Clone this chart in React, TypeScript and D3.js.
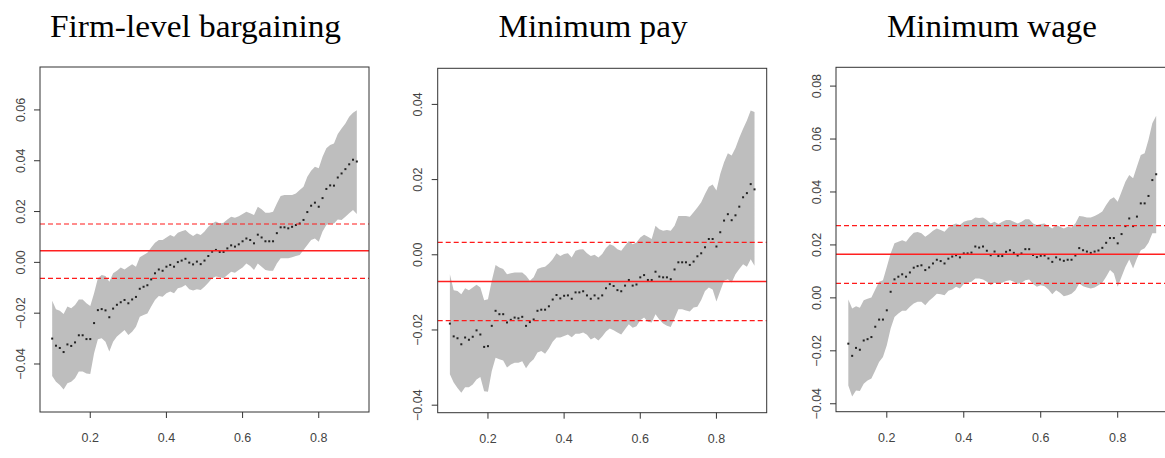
import React from 'react';
import * as d3 from 'd3';

const xGrid = d3.range(10, 91).map((i) => i / 100);

const titles = ['Firm-level bargaining', 'Minimum pay', 'Minimum wage'];

const firmEst = [-0.0300,-0.0328,-0.0337,-0.0353,-0.0323,-0.0329,-0.0315,-0.0287,-0.0287,-0.0302,
-0.0302,-0.0239,-0.0188,-0.0184,-0.0189,-0.0216,-0.0182,-0.0167,-0.0157,-0.0148,
-0.0161,-0.0146,-0.0136,-0.0104,-0.0096,-0.0090,-0.0067,-0.0043,-0.0028,-0.0033,
-0.0017,-0.0010,-0.0017,0.0001,0.0007,0.0014,-0.0001,-0.0008,0.0003,-0.0007,
0.0007,0.0025,0.0042,0.0049,0.0041,0.0041,0.0055,0.0067,0.0062,0.0071,
0.0083,0.0094,0.0088,0.0075,0.0109,0.0098,0.0083,0.0083,0.0083,0.0115,
0.0138,0.0138,0.0134,0.0140,0.0147,0.0153,0.0167,0.0198,0.0223,0.0235,
0.0219,0.0253,0.0289,0.0303,0.0302,0.0334,0.0350,0.0367,0.0386,0.0404,0.0397];
const firmUpper = [-0.0151,-0.0185,-0.0190,-0.0203,-0.0174,-0.0181,-0.0168,-0.0146,-0.0146,-0.0161,
-0.0172,-0.0122,-0.0063,-0.0050,-0.0054,-0.0076,-0.0043,-0.0033,-0.0020,-0.0028,
-0.0017,-0.0007,-0.0017,0.0020,0.0029,0.0038,0.0059,0.0077,0.0088,0.0088,
0.0098,0.0108,0.0101,0.0117,0.0122,0.0127,0.0114,0.0104,0.0114,0.0108,
0.0121,0.0140,0.0153,0.0161,0.0153,0.0156,0.0169,0.0180,0.0176,0.0182,
0.0190,0.0199,0.0193,0.0186,0.0219,0.0209,0.0195,0.0195,0.0199,0.0232,
0.0261,0.0265,0.0265,0.0265,0.0271,0.0285,0.0298,0.0337,0.0361,0.0376,
0.0370,0.0416,0.0449,0.0462,0.0468,0.0505,0.0527,0.0547,0.0573,0.0589,0.0599];
const firmLower = [-0.0447,-0.0470,-0.0483,-0.0500,-0.0476,-0.0470,-0.0456,-0.0430,-0.0430,-0.0437,
-0.0439,-0.0358,-0.0303,-0.0299,-0.0312,-0.0351,-0.0312,-0.0292,-0.0279,-0.0266,
-0.0286,-0.0273,-0.0253,-0.0214,-0.0207,-0.0201,-0.0174,-0.0148,-0.0132,-0.0135,
-0.0122,-0.0115,-0.0122,-0.0102,-0.0098,-0.0089,-0.0106,-0.0111,-0.0106,-0.0109,
-0.0096,-0.0080,-0.0063,-0.0056,-0.0059,-0.0063,-0.0050,-0.0037,-0.0041,-0.0030,
-0.0020,-0.0004,-0.0014,-0.0030,-0.0004,-0.0017,-0.0030,-0.0033,-0.0033,-0.0004,
0.0016,0.0016,0.0016,0.0020,0.0025,0.0029,0.0049,0.0068,0.0088,0.0094,
0.0081,0.0121,0.0147,0.0153,0.0153,0.0169,0.0167,0.0180,0.0193,0.0206,0.0190];

const payEst = [-0.0183,-0.0217,-0.0222,-0.0238,-0.0220,-0.0226,-0.0218,-0.0201,-0.0212,-0.0245,
-0.0243,-0.0189,-0.0149,-0.0158,-0.0158,-0.0180,-0.0173,-0.0167,-0.0169,-0.0165,
-0.0189,-0.0179,-0.0172,-0.0149,-0.0146,-0.0146,-0.0137,-0.0119,-0.0107,-0.0116,
-0.0109,-0.0108,-0.0117,-0.0100,-0.0100,-0.0097,-0.0108,-0.0117,-0.0108,-0.0116,
-0.0108,-0.0089,-0.0078,-0.0083,-0.0094,-0.0097,-0.0082,-0.0067,-0.0082,-0.0079,
-0.0060,-0.0054,-0.0067,-0.0067,-0.0045,-0.0058,-0.0060,-0.0060,-0.0065,-0.0039,
-0.0020,-0.0020,-0.0020,-0.0027,-0.0018,-0.0004,0.0004,0.0020,0.0042,0.0042,
0.0022,0.0060,0.0091,0.0108,0.0092,0.0105,0.0128,0.0153,0.0164,0.0188,0.0174];
const payUpper = [-0.0052,-0.0094,-0.0096,-0.0105,-0.0089,-0.0094,-0.0087,-0.0080,-0.0087,-0.0121,
-0.0118,-0.0069,-0.0027,-0.0034,-0.0038,-0.0052,-0.0049,-0.0047,-0.0047,-0.0047,
-0.0056,-0.0069,-0.0060,-0.0038,-0.0034,-0.0032,-0.0023,-0.0012,0.0004,-0.0003,
0.0002,0.0004,-0.0007,0.0011,0.0014,0.0015,0.0004,-0.0003,0.0000,-0.0007,
0.0002,0.0018,0.0028,0.0024,0.0015,0.0011,0.0024,0.0037,0.0028,0.0033,
0.0046,0.0053,0.0048,0.0042,0.0077,0.0068,0.0064,0.0066,0.0064,0.0077,
0.0103,0.0103,0.0103,0.0101,0.0113,0.0126,0.0140,0.0162,0.0181,0.0187,
0.0171,0.0215,0.0246,0.0270,0.0264,0.0284,0.0311,0.0335,0.0357,0.0384,0.0380];
const payLower = [-0.0318,-0.0340,-0.0354,-0.0367,-0.0352,-0.0352,-0.0345,-0.0332,-0.0325,-0.0363,
-0.0364,-0.0309,-0.0274,-0.0278,-0.0281,-0.0300,-0.0292,-0.0287,-0.0287,-0.0283,
-0.0302,-0.0287,-0.0278,-0.0260,-0.0256,-0.0263,-0.0249,-0.0231,-0.0220,-0.0220,
-0.0216,-0.0212,-0.0219,-0.0210,-0.0210,-0.0207,-0.0213,-0.0225,-0.0220,-0.0228,
-0.0217,-0.0204,-0.0196,-0.0201,-0.0207,-0.0212,-0.0198,-0.0185,-0.0194,-0.0190,
-0.0174,-0.0167,-0.0178,-0.0180,-0.0158,-0.0172,-0.0183,-0.0189,-0.0192,-0.0169,
-0.0145,-0.0145,-0.0148,-0.0151,-0.0140,-0.0138,-0.0120,-0.0096,-0.0087,-0.0092,
-0.0124,-0.0096,-0.0069,-0.0065,-0.0074,-0.0052,-0.0038,-0.0025,-0.0032,-0.0012,-0.0029];

const wageEst = [-0.0173,-0.0219,-0.0189,-0.0196,-0.0161,-0.0156,-0.0148,-0.0109,-0.0082,-0.0082,
-0.0047,0.0023,0.0070,0.0080,0.0089,0.0080,0.0096,0.0114,0.0120,0.0123,
0.0105,0.0115,0.0130,0.0144,0.0139,0.0130,0.0148,0.0156,0.0161,0.0153,
0.0168,0.0168,0.0171,0.0194,0.0190,0.0194,0.0178,0.0161,0.0175,0.0158,
0.0158,0.0174,0.0180,0.0170,0.0160,0.0168,0.0184,0.0184,0.0162,0.0154,
0.0159,0.0160,0.0149,0.0136,0.0153,0.0145,0.0140,0.0144,0.0144,0.0160,
0.0188,0.0180,0.0175,0.0170,0.0175,0.0179,0.0189,0.0208,0.0226,0.0226,
0.0206,0.0241,0.0271,0.0300,0.0271,0.0307,0.0357,0.0357,0.0385,0.0445,0.0467];
const wageUpper = [-0.0006,-0.0040,-0.0032,-0.0037,-0.0009,-0.0003,0.0001,0.0032,0.0061,0.0067,
0.0117,0.0168,0.0206,0.0212,0.0218,0.0212,0.0231,0.0246,0.0249,0.0244,
0.0231,0.0241,0.0254,0.0262,0.0256,0.0250,0.0266,0.0275,0.0281,0.0275,
0.0288,0.0292,0.0294,0.0304,0.0302,0.0304,0.0294,0.0281,0.0288,0.0279,
0.0288,0.0294,0.0294,0.0288,0.0281,0.0288,0.0297,0.0297,0.0281,0.0275,
0.0279,0.0281,0.0271,0.0262,0.0275,0.0269,0.0262,0.0269,0.0266,0.0281,
0.0309,0.0307,0.0304,0.0304,0.0309,0.0317,0.0326,0.0351,0.0372,0.0380,
0.0363,0.0401,0.0439,0.0464,0.0452,0.0496,0.0540,0.0546,0.0597,0.0660,0.0688];
const wageLower = [-0.0331,-0.0373,-0.0350,-0.0352,-0.0324,-0.0312,-0.0305,-0.0274,-0.0242,-0.0223,
-0.0179,-0.0116,-0.0072,-0.0059,-0.0049,-0.0049,-0.0034,-0.0021,-0.0015,-0.0015,
-0.0028,-0.0011,0.0001,0.0016,0.0014,0.0010,0.0027,0.0032,0.0042,0.0035,
0.0052,0.0057,0.0061,0.0073,0.0073,0.0069,0.0061,0.0048,0.0057,0.0052,
0.0057,0.0064,0.0067,0.0061,0.0052,0.0057,0.0067,0.0069,0.0052,0.0042,
0.0048,0.0044,0.0032,0.0014,0.0029,0.0019,0.0006,0.0010,0.0016,0.0029,
0.0054,0.0044,0.0039,0.0035,0.0039,0.0048,0.0057,0.0080,0.0105,0.0092,
0.0042,0.0080,0.0117,0.0145,0.0111,0.0149,0.0180,0.0187,0.0208,0.0244,0.0244];

const centerLines = [0.0046, -0.0071, 0.0165];
const upperLines = [0.0151, 0.0033, 0.0273];
const lowerLines = [-0.0063, -0.0175, 0.0055];

const xTicks = [0.2, 0.4, 0.6, 0.8];
const yTicksFirm = [-0.04, -0.02, 0, 0.02, 0.04, 0.06];
const yTicksPay = [-0.04, -0.02, 0, 0.02, 0.04];
const yTicksWage = [-0.04, -0.02, 0, 0.02, 0.04, 0.06, 0.08];

const series = [
  { est: firmEst, up: firmUpper, lo: firmLower, yTicks: yTicksFirm },
  { est: payEst, up: payUpper, lo: payLower, yTicks: yTicksPay },
  { est: wageEst, up: wageUpper, lo: wageLower, yTicks: yTicksWage },
];

const layout = [
  { left: 40, right: 369, top: 67, bottom: 412, yDom: [-0.0589, 0.0769], titleX: 195.5, titleW: 291 },
  { left: 437.7, right: 766.7, top: 68.3, bottom: 412.7, yDom: [-0.042, 0.0496], titleX: 593, titleW: 189 },
  { left: 836, right: 1168.5, top: 67.3, bottom: 411.7, yDom: [-0.043, 0.0871], titleX: 992, titleW: 210 },
];

const fmtY = d3.format('.2f');
const fmtX = d3.format('.1f');

function Panel({ i }: { i: number }) {
  const L = layout[i];
  const S = series[i];
  const x = d3.scaleLinear().domain([0.068, 0.932]).range([L.left, L.right]);
  const y = d3.scaleLinear().domain(L.yDom).range([L.bottom, L.top]);
  const rows = xGrid.map((xv, k) => ({ x: xv, e: S.est[k], u: S.up[k], l: S.lo[k] }));
  const area = d3
    .area<any>()
    .x((d) => x(d.x))
    .y0((d) => y(d.l))
    .y1((d) => y(d.u));
  const axisColor = '#333';
  const labelColor = '#444';
  return (
    <g>
      <text
        x={L.titleX}
        y={37}
        textAnchor="middle"
        fontFamily="Liberation Serif"
        fontSize={32}
        textLength={L.titleW}
        lengthAdjust="spacingAndGlyphs"
        fill="#000"
      >
        {titles[i]}
      </text>
      <path d={area(rows) || ''} fill="#bebebe" stroke="none" />
      {rows.map((d, k) => (
        <rect key={k} x={x(d.x) - 1} y={y(d.e) - 1} width={2} height={2} fill="#222" />
      ))}
      <line x1={L.left} x2={L.right} y1={y(centerLines[i])} y2={y(centerLines[i])} stroke="#ff2020" strokeWidth={1.4} />
      <line x1={L.left} x2={L.right} y1={y(upperLines[i])} y2={y(upperLines[i])} stroke="#ff1a1a" strokeWidth={1.2} strokeDasharray="5,3" />
      <line x1={L.left} x2={L.right} y1={y(lowerLines[i])} y2={y(lowerLines[i])} stroke="#ff1a1a" strokeWidth={1.2} strokeDasharray="5,3" />
      <rect x={L.left} y={L.top} width={L.right - L.left} height={L.bottom - L.top} fill="none" stroke={axisColor} strokeWidth={1} />
      {xTicks.map((t) => (
        <g key={'x' + t}>
          <line x1={x(t)} x2={x(t)} y1={L.bottom} y2={L.bottom + 6} stroke={axisColor} />
          <text x={x(t)} y={L.bottom + 30} textAnchor="middle" fontFamily="Liberation Sans" fontSize={12.5} fill={labelColor}>
            {fmtX(t)}
          </text>
        </g>
      ))}
      {S.yTicks.map((t) => (
        <g key={'y' + t}>
          <line x1={L.left - 6} x2={L.left} y1={y(t)} y2={y(t)} stroke={axisColor} />
          <text
            transform={`translate(${L.left - 15.5},${y(t)}) rotate(-90)`}
            textAnchor="middle"
            fontFamily="Liberation Sans"
            fontSize={12.5}
            fill={labelColor}
          >
            {fmtY(t)}
          </text>
        </g>
      ))}
    </g>
  );
}

export default function App() {
  return (
    <svg
      width={1165}
      height={458}
      viewBox="0 0 1165 458"
      style={{ position: 'absolute', left: 0, top: 0, background: '#fff' }}
    >
      <rect x={0} y={0} width={1165} height={458} fill="#fff" />
      {[0, 1, 2].map((i) => (
        <Panel key={i} i={i} />
      ))}
    </svg>
  );
}
